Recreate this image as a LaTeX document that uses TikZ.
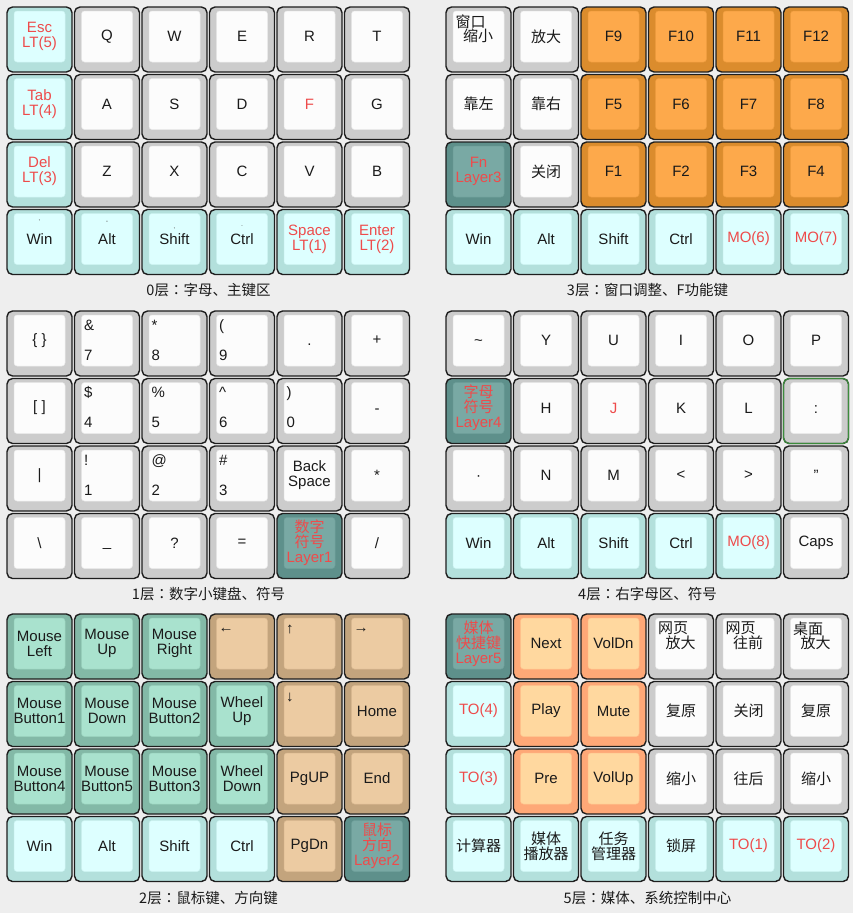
\documentclass[tikz,border=0pt]{standalone}
\usepackage{fontspec}
\setmainfont{Liberation Sans}
\newfontfamily\cjk{Noto Sans CJK SC}
\newfontfamily\cjktc{Noto Sans CJK TC}
\definecolor{bg}{HTML}{EEEEEE}
\definecolor{kborder}{HTML}{1E1E1E}
\definecolor{Go}{HTML}{CCCCCC}\definecolor{Gi}{HTML}{FCFCFC}
\definecolor{Co}{HTML}{B3E0DC}\definecolor{Ci}{HTML}{DDFFFF}
\definecolor{Do}{HTML}{5E908B}\definecolor{Di}{HTML}{79A9A4}
\definecolor{Fo}{HTML}{DB8C2D}\definecolor{Fi}{HTML}{FDA94B}
\definecolor{Mo}{HTML}{83B9A7}\definecolor{Mi}{HTML}{A9E2CE}
\definecolor{To}{HTML}{C3A47D}\definecolor{Ti}{HTML}{ECCBA2}
\definecolor{So}{HTML}{FEA877}\definecolor{Si}{HTML}{FFD89F}
\definecolor{kred}{HTML}{EE4B4B}
\definecolor{ktext}{HTML}{1A1A1A}
\definecolor{colgreen}{HTML}{3C8C3C}
\newcommand\ph{\vphantom{A}}
\newcommand\cc{{\cjktc ：}}
% key: [node options]{name}{col}{row}{scheme}{text}
\newcommand\key[6][]{%
  \path[keyout, fill=#5o] ({#3*67.5+1},{#4*67.5+1}) rectangle ++(65,65);
  \path[keyin, fill=#5i, draw=#5o!40!#5i] ({#3*67.5+8},{#4*67.5+5}) rectangle ++(51,51);
  \node[keytext,#1] (#2) at ({#3*67.5+33.5},{#4*67.5+30.5}) {#6};}
% two legends: {name}{col}{row}{scheme}{top}{bottom}
\newcommand\keytb[6]{%
  \key{#1}{#2}{#3}{#4}{}
  \node[legend, anchor=base west] (#1t) at ({#2*67.5+10.5},{#3*67.5+20}) {#5};
  \node[legend, anchor=base west] (#1b) at ({#2*67.5+10.5},{#3*67.5+50}) {#6};}
% top-left legend only
\newcommand\keytl[5]{%
  \key{#1}{#2}{#3}{#4}{}
  \node[legend, anchor=west] (#1t) at ({#2*67.5+10},{#3*67.5+17}) {#5};}
% offset two-line CJK
\newcommand\keyoff[6]{%
  \key{#1}{#2}{#3}{#4}{}
  \node[legend, anchor=west] (#1t) at ({#2*67.5+10.5},{#3*67.5+15.5}) {\cjk #5};
  \node[legend] (#1b) at ({#2*67.5+33},{#3*67.5+30}) {\cjk #6};}
\begin{document}
\begin{tikzpicture}[x=1pt,y=-1pt,
  keyout/.style={draw=kborder, line width=1.4pt, rounded corners=5.5pt},
  keyin/.style={rounded corners=3pt, line width=0.5pt},
  keytext/.style={font=\fontsize{15}{15}\selectfont, align=center, inner sep=0pt, text=ktext},
  legend/.style={font=\fontsize{15}{15}\selectfont, inner sep=0pt, text=ktext},
  tinymark/.style={font=\fontsize{7}{7}\selectfont, inner sep=0pt, text=ktext!70},
  caption/.style={font=\cjk\fontsize{14.5}{14.5}\selectfont, inner sep=0pt, text=ktext},
  rt/.style={text=kred}]
\useasboundingbox (0,0) rectangle (853,913);
\fill[bg] (0,0) rectangle (853,913);

% ---------- Layer 0 ----------
\begin{scope}[shift={(6,6)}]
\key[rt]{a00}{0}{0}{C}{Esc\\LT(5)}
\key{a01}{1}{0}{G}{Q}
\key{a02}{2}{0}{G}{W}
\key{a03}{3}{0}{G}{E}
\key{a04}{4}{0}{G}{R}
\key{a05}{5}{0}{G}{T}
\key[rt]{a10}{0}{1}{C}{Tab\\LT(4)}
\key{a11}{1}{1}{G}{A}
\key{a12}{2}{1}{G}{S}
\key{a13}{3}{1}{G}{D}
\key[rt]{a14}{4}{1}{G}{F}
\key{a15}{5}{1}{G}{G}
\key[rt]{a20}{0}{2}{C}{Del\\LT(3)}
\key{a21}{1}{2}{G}{Z}
\key{a22}{2}{2}{G}{X}
\key{a23}{3}{2}{G}{C}
\key{a24}{4}{2}{G}{V}
\key{a25}{5}{2}{G}{B}
\key{a30}{0}{3}{C}{Win}
\key{a31}{1}{3}{C}{Alt}
\key{a32}{2}{3}{C}{Shift}
\key{a33}{3}{3}{C}{Ctrl}
\key[rt]{a34}{4}{3}{C}{Space\\LT(1)}
\key[rt]{a35}{5}{3}{C}{Enter\\LT(2)}
\node[tinymark] (a30m) at (33.5,216) {'};
\node[tinymark] (a31m) at (101,216) {-};
\node[tinymark] (a32m) at (168.5,224) {'};
\node[tinymark] (a33m) at (236,220) {.};
\end{scope}

% ---------- Layer 3 ----------
\begin{scope}[shift={(445,6)}]
\keyoff{d00}{0}{0}{G}{窗口}{缩小}
\key{d01}{1}{0}{G}{\cjk 放大}
\key{d02}{2}{0}{F}{F9}
\key{d03}{3}{0}{F}{F10}
\key{d04}{4}{0}{F}{F11}
\key{d05}{5}{0}{F}{F12}
\key{d10}{0}{1}{G}{\cjk 靠左}
\key{d11}{1}{1}{G}{\cjk 靠右}
\key{d12}{2}{1}{F}{F5}
\key{d13}{3}{1}{F}{F6}
\key{d14}{4}{1}{F}{F7}
\key{d15}{5}{1}{F}{F8}
\key[rt]{d20}{0}{2}{D}{Fn\\Layer3}
\key{d21}{1}{2}{G}{\cjk 关闭}
\key{d22}{2}{2}{F}{F1}
\key{d23}{3}{2}{F}{F2}
\key{d24}{4}{2}{F}{F3}
\key{d25}{5}{2}{F}{F4}
\key{d30}{0}{3}{C}{Win}
\key{d31}{1}{3}{C}{Alt}
\key{d32}{2}{3}{C}{Shift}
\key{d33}{3}{3}{C}{Ctrl}
\key[rt]{d34}{4}{3}{C}{MO(6)}
\key[rt]{d35}{5}{3}{C}{MO(7)}
\end{scope}

% ---------- Layer 1 ----------
\begin{scope}[shift={(6,310)}]
\key{b00}{0}{0}{G}{\{ \}}
\keytb{b01}{1}{0}{G}{\&}{7}
\keytb{b02}{2}{0}{G}{*}{8}
\keytb{b03}{3}{0}{G}{(}{9}
\key{b04}{4}{0}{G}{\ph.}
\key{b05}{5}{0}{G}{+}
\key{b10}{0}{1}{G}{[ ]}
\keytb{b11}{1}{1}{G}{\$}{4}
\keytb{b12}{2}{1}{G}{\%}{5}
\keytb{b13}{3}{1}{G}{\textasciicircum}{6}
\keytb{b14}{4}{1}{G}{)}{0}
\key{b15}{5}{1}{G}{\ph-}
\key{b20}{0}{2}{G}{|}
\keytb{b21}{1}{2}{G}{!}{1}
\keytb{b22}{2}{2}{G}{@}{2}
\keytb{b23}{3}{2}{G}{\#}{3}
\key{b24}{4}{2}{G}{Back\\Space}
\key{b25}{5}{2}{G}{\ph*}
\key{b30}{0}{3}{G}{\textbackslash}
\key{b31}{1}{3}{G}{\ph\_}
\key{b32}{2}{3}{G}{?}
\key{b33}{3}{3}{G}{=}
\key[rt]{b34}{4}{3}{D}{{\cjk 数字}\\{\cjk 符号}\\Layer1}
\key{b35}{5}{3}{G}{/}
\end{scope}

% ---------- Layer 4 ----------
\begin{scope}[shift={(445,310)}]
\key{e00}{0}{0}{G}{\ph\textasciitilde}
\key{e01}{1}{0}{G}{Y}
\key{e02}{2}{0}{G}{U}
\key{e03}{3}{0}{G}{I}
\key{e04}{4}{0}{G}{O}
\key{e05}{5}{0}{G}{P}
\key[rt]{e10}{0}{1}{D}{{\cjk 字母}\\{\cjk 符号}\\Layer4}
\key{e11}{1}{1}{G}{H}
\key[rt]{e12}{2}{1}{G}{J}
\key{e13}{3}{1}{G}{K}
\key{e14}{4}{1}{G}{L}
\key{e15}{5}{1}{G}{\ph:}
\draw[colgreen, line width=1.2pt, rounded corners=5.5pt] (5*67.5+1,67.5+1) rectangle ++(65,65);
\key{e20}{0}{2}{G}{\ph·}
\key{e21}{1}{2}{G}{N}
\key{e22}{2}{2}{G}{M}
\key{e23}{3}{2}{G}{<}
\key{e24}{4}{2}{G}{>}
\key{e25}{5}{2}{G}{\ph"}
\key{e30}{0}{3}{C}{Win}
\key{e31}{1}{3}{C}{Alt}
\key{e32}{2}{3}{C}{Shift}
\key{e33}{3}{3}{C}{Ctrl}
\key[rt]{e34}{4}{3}{C}{MO(8)}
\key{e35}{5}{3}{G}{Caps}
\end{scope}

% ---------- Layer 2 ----------
\begin{scope}[shift={(6,613)}]
\key{c00}{0}{0}{M}{Mouse\\Left}
\key{c01}{1}{0}{M}{Mouse\\Up}
\key{c02}{2}{0}{M}{Mouse\\Right}
\keytl{c03}{3}{0}{T}{←}
\keytl{c04}{4}{0}{T}{↑}
\keytl{c05}{5}{0}{T}{→}
\key{c10}{0}{1}{M}{Mouse\\Button1}
\key{c11}{1}{1}{M}{Mouse\\Down}
\key{c12}{2}{1}{M}{Mouse\\Button2}
\key{c13}{3}{1}{M}{Wheel\\Up}
\keytl{c14}{4}{1}{T}{↓}
\key{c15}{5}{1}{T}{Home}
\key{c20}{0}{2}{M}{Mouse\\Button4}
\key{c21}{1}{2}{M}{Mouse\\Button5}
\key{c22}{2}{2}{M}{Mouse\\Button3}
\key{c23}{3}{2}{M}{Wheel\\Down}
\key{c24}{4}{2}{T}{PgUP}
\key{c25}{5}{2}{T}{End}
\key{c30}{0}{3}{C}{Win}
\key{c31}{1}{3}{C}{Alt}
\key{c32}{2}{3}{C}{Shift}
\key{c33}{3}{3}{C}{Ctrl}
\key{c34}{4}{3}{T}{PgDn}
\key[rt]{c35}{5}{3}{D}{{\cjk 鼠标}\\{\cjk 方向}\\Layer2}
\end{scope}

% ---------- Layer 5 ----------
\begin{scope}[shift={(445,613)}]
\key[rt]{f00}{0}{0}{D}{{\cjk 媒体}\\{\cjk 快捷键}\\Layer5}
\key{f01}{1}{0}{S}{Next}
\key{f02}{2}{0}{S}{VolDn}
\keyoff{f03}{3}{0}{G}{网页}{放大}
\keyoff{f04}{4}{0}{G}{网页}{往前}
\keyoff{f05}{5}{0}{G}{桌面}{放大}
\key[rt]{f10}{0}{1}{C}{TO(4)}
\key{f11}{1}{1}{S}{Play}
\key{f12}{2}{1}{S}{Mute}
\key{f13}{3}{1}{G}{\cjk 复原}
\key{f14}{4}{1}{G}{\cjk 关闭}
\key{f15}{5}{1}{G}{\cjk 复原}
\key[rt]{f20}{0}{2}{C}{TO(3)}
\key{f21}{1}{2}{S}{Pre}
\key{f22}{2}{2}{S}{VolUp}
\key{f23}{3}{2}{G}{\cjk 缩小}
\key{f24}{4}{2}{G}{\cjk 往后}
\key{f25}{5}{2}{G}{\cjk 缩小}
\key{f30}{0}{3}{C}{\cjk 计算器}
\key{f31}{1}{3}{C}{{\cjk 媒体}\\{\cjk 播放器}}
\key{f32}{2}{3}{C}{{\cjk 任务}\\{\cjk 管理器}}
\key{f33}{3}{3}{C}{\cjk 锁屏}
\key[rt]{f34}{4}{3}{C}{TO(1)}
\key[rt]{f35}{5}{3}{C}{TO(2)}
\end{scope}

% ---------- captions ----------
\node[caption] (cap0) at (208.5,290) {0层\cc 字母、主键区};
\node[caption] (cap3) at (647.5,290) {3层\cc 窗口调整、F功能键};
\node[caption] (cap1) at (208.5,594) {1层\cc 数字小键盘、符号};
\node[caption] (cap4) at (647.5,594) {4层\cc 右字母区、符号};
\node[caption] (cap2) at (208.5,898) {2层\cc 鼠标键、方向键};
\node[caption] (cap5) at (647.5,898) {5层\cc 媒体、系统控制中心};
\end{tikzpicture}
\end{document}
